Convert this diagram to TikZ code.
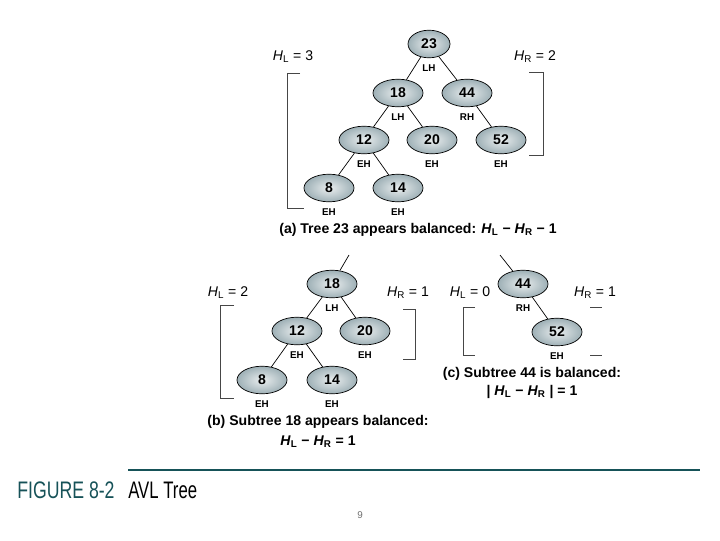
\documentclass[tikz,border=0pt]{standalone}
\usepackage{fontspec}
\setmainfont{Liberation Sans}
\usetikzlibrary{positioning,shapes.geometric}
\definecolor{avlgray}{RGB}{158,176,182}
\definecolor{avllight}{RGB}{234,238,239}
\definecolor{bracketgray}{RGB}{70,70,70}
\definecolor{figteal}{RGB}{22,82,88}
\definecolor{pagegray}{RGB}{110,110,110}
\newcommand{\hsubL}{\textit{H}\textsubscript{L}}
\newcommand{\hsubR}{\textit{H}\textsubscript{R}}
\tikzset{
  avlnode/.style={ellipse,draw=black,line width=0.5pt,inner color=avllight,outer color=avlgray,
    minimum width=1.25cm,minimum height=0.69cm,inner sep=0pt,font=\fontsize{10}{12}\selectfont\bfseries},
  baltag/.style={font=\fontsize{7}{8}\selectfont\bfseries,inner sep=1pt},
  edge/.style={draw=black,line width=0.5pt},
  brace/.style={draw=bracketgray,line width=0.6pt},
  hlabel/.style={font=\fontsize{10}{12}\selectfont,inner sep=1pt},
  caption/.style={font=\fontsize{10}{12}\selectfont\bfseries,inner sep=1pt}
}

\begin{document}
\begin{tikzpicture}[x=0.025cm,y=-0.025cm]
  \useasboundingbox (0,0) rectangle (720,540);
  % Tree (a)
  \node[avlnode,minimum width=1.05cm] (a23) at (429,44) {23};
  \node[avlnode] (a18) at (398,93) {18};
  \node[avlnode] (a44) at (467,93) {44};
  \node[avlnode] (a12) at (364,140) {12};
  \node[avlnode] (a20) at (432,140) {20};
  \node[avlnode] (a52) at (501,140) {52};
  \node[avlnode] (a8) at (329,188) {8};
  \node[avlnode] (a14) at (398,188) {14};
  \node[baltag,below=3.5pt of a23] (a23b) {LH};
  \node[baltag,below=3.5pt of a18] (a18b) {LH};
  \node[baltag,below=3.5pt of a44] (a44b) {RH};
  \foreach \n in {12,20,52,8,14} {
    \node[baltag,below=3.5pt of a\n] (a\n b) {EH};
  }
  \draw[edge] (a23) -- (a18);
  \draw[edge] (a23) -- (a44);
  \draw[edge] (a18) -- (a12);
  \draw[edge] (a18) -- (a20);
  \draw[edge] (a44) -- (a52);
  \draw[edge] (a12) -- (a8);
  \draw[edge] (a12) -- (a14);
  \draw[brace] (300,73) -- (287,73) -- (287,208) -- (304,208);
  \draw[brace] (529,72) -- (543,72) -- (543,155) -- (529,155);
  \node[hlabel] (ahl) at (293,57) {\hsubL\ = 3};
  \node[hlabel] (ahr) at (535,57) {\hsubR\ = 2};
  \node[caption] (acap) at (418,230) {(a) Tree 23 appears balanced: \hsubL\ − \hsubR\ − 1};
  % Tree (b)
  \coordinate (bstub) at (349,255);
  \node[avlnode] (b18) at (332,284) {18};
  \node[avlnode] (b12) at (297,331) {12};
  \node[avlnode] (b20) at (365,331) {20};
  \node[avlnode] (b8) at (262,380) {8};
  \node[avlnode] (b14) at (332,380) {14};
  \node[baltag,below=3.5pt of b18] (b18b) {LH};
  \foreach \n in {12,20,8,14} {
    \node[baltag,below=3.5pt of b\n] (b\n b) {EH};
  }
  \draw[edge] (b18) -- (bstub);
  \draw[edge] (b18) -- (b12);
  \draw[edge] (b18) -- (b20);
  \draw[edge] (b12) -- (b8);
  \draw[edge] (b12) -- (b14);
  \draw[brace] (234,305) -- (220,305) -- (220,398) -- (234,398);
  \draw[brace] (403,309) -- (415,309) -- (415,359) -- (403,359);
  \node[hlabel] (bhl) at (228,293) {\hsubL\ = 2};
  \node[hlabel] (bhr) at (408,293) {\hsubR\ = 1};
  \node[caption] (bcap) at (318,422) {(b) Subtree 18 appears balanced:};
  \node[caption] (bcap2) at (318,442) {\hsubL\ − \hsubR\ = 1};
  % Tree (c)
  \coordinate (cstub) at (500,255);
  \node[avlnode] (c44) at (523,284) {44};
  \node[avlnode] (c52) at (557,332) {52};
  \node[baltag,below=3.5pt of c44] (c44b) {RH};
  \node[baltag,below=3.5pt of c52] (c52b) {EH};
  \draw[edge] (c44) -- (cstub);
  \draw[edge] (c44) -- (c52);
  \draw[brace] (475,307) -- (463,307) -- (463,355) -- (475,355);
  \draw[brace] (590,307) -- (602,307);
  \draw[brace] (590,355) -- (602,355);
  \node[hlabel] (chl) at (470,293) {\hsubL\ = 0};
  \node[hlabel] (chr) at (595,293) {\hsubR\ = 1};
  \node[caption] (ccap) at (532,374) {(c) Subtree 44 is balanced:};
  \node[caption] (ccap2) at (532,392) {| \hsubL\ − \hsubR\ | = 1};
  % Figure title
  \draw[figteal,line width=1.6pt] (128,470) -- (700,470);
  \node[anchor=west,inner sep=0pt,text=figteal,font=\fontsize{17}{20}\selectfont] (fignum) at (17,490) {\scalebox{0.74}[1]{FIGURE 8-2}};
  \node[anchor=west,inner sep=0pt,font=\fontsize{17}{20}\selectfont] (figtitle) at (128,490) {\scalebox{0.7}[1]{AVL Tree}};
  \node[text=pagegray,font=\fontsize{7}{8}\selectfont] (pagenum) at (360,515) {9};
\end{tikzpicture}
\end{document}
